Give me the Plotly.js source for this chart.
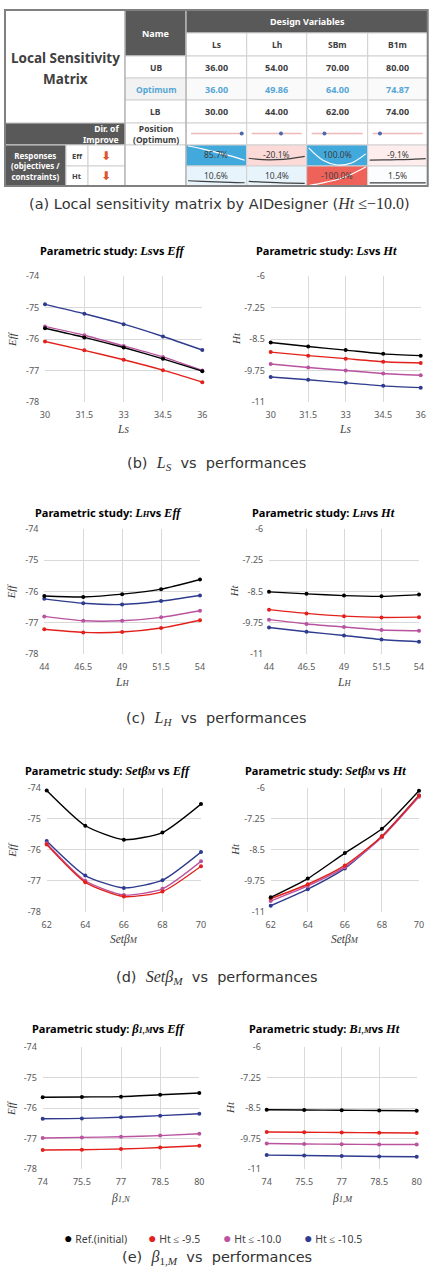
<!DOCTYPE html>
<html><head><meta charset="utf-8">
<script src="https://cdn.plot.ly/plotly-3.0.1.min.js"></script>
<style>html,body{margin:0;padding:0;background:#fff}#chart{width:436px;height:1285px}</style>
</head><body><div id="chart"></div>
<script>
// ---------- table data ----------
const varNames = ['Ls','Lh','SBm','B1m'];
const UB  = [36.00, 54.00, 70.00, 80.00];
const OPT = [36.00, 49.86, 64.00, 74.87];
const LB  = [30.00, 44.00, 62.00, 74.00];
const sensEff = [85.7, -20.1, 100.0, -9.1];
const sensHt  = [10.6, 10.4, -100.0, 1.5];

// ---------- parametric study data ----------
const xLs = [30, 31.5, 33, 34.5, 36];
const effLs_ref = [-75.66,-75.95,-76.27,-76.63,-77.02];
const effLs_95  = [-76.08,-76.36,-76.66,-76.99,-77.37];
const effLs_100 = [-75.60,-75.88,-76.22,-76.57,-77.00];
const effLs_105 = [-74.90,-75.20,-75.53,-75.92,-76.35];
const htLs_ref = [-8.64,-8.80,-8.94,-9.09,-9.16];
const htLs_95  = [-9.02,-9.16,-9.28,-9.40,-9.45];
const htLs_100 = [-9.49,-9.63,-9.75,-9.87,-9.94];
const htLs_105 = [-10.01,-10.12,-10.24,-10.36,-10.43];

const xLh = [44, 46.5, 49, 51.5, 54];
const effLh_ref = [-76.15,-76.18,-76.09,-75.93,-75.62];
const effLh_95  = [-77.21,-77.31,-77.30,-77.17,-76.92];
const effLh_100 = [-76.80,-76.94,-76.94,-76.83,-76.62];
const effLh_105 = [-76.24,-76.38,-76.42,-76.31,-76.13];
const htLh_ref = [-8.52,-8.60,-8.67,-8.70,-8.63];
const htLh_95  = [-9.23,-9.38,-9.49,-9.54,-9.53];
const htLh_100 = [-9.63,-9.80,-9.92,-10.04,-10.07];
const htLh_105 = [-9.94,-10.11,-10.26,-10.42,-10.51];

const xSB = [62, 64, 66, 68, 70];
const effSB_ref = [-74.08,-75.22,-75.67,-75.44,-74.52];
const effSB_95  = [-75.83,-77.05,-77.51,-77.35,-76.53];
const effSB_100 = [-75.79,-77.00,-77.46,-77.26,-76.37];
const effSB_105 = [-75.71,-76.83,-77.23,-76.98,-76.07];
const htSB_ref = [-10.42,-9.66,-8.63,-7.65,-6.11];
const htSB_95  = [-10.47,-9.89,-9.13,-7.95,-6.30];
const htSB_100 = [-10.57,-9.96,-9.20,-7.99,-6.35];
const htSB_105 = [-10.76,-10.09,-9.25,-7.95,-6.30];

const xB1 = [74, 75.5, 77, 78.5, 80];
const effB1_ref = [-75.65,-75.64,-75.63,-75.57,-75.51];
const effB1_95  = [-77.37,-77.36,-77.34,-77.29,-77.23];
const effB1_100 = [-76.98,-76.96,-76.94,-76.90,-76.84];
const effB1_105 = [-76.35,-76.34,-76.30,-76.25,-76.19];
const htB1_ref = [-8.57,-8.58,-8.59,-8.60,-8.61];
const htB1_95  = [-9.48,-9.49,-9.50,-9.51,-9.52];
const htB1_100 = [-9.95,-9.97,-9.98,-9.99,-9.99];
const htB1_105 = [-10.42,-10.44,-10.46,-10.48,-10.49];

const effTicks = [-78,-77,-76,-75,-74];
const htTicks  = [-11,-9.75,-8.5,-7.25,-6];
const legendNames = ['Ref.(initial)','Ht ≤ -9.5','Ht ≤ -10.0','Ht ≤ -10.5'];

// ---------- styling ----------
const W = 436, H = 1285;
const C_REF='#000000', C_95='#e3211c', C_100='#b9539f', C_105='#2e3b8e';
const DARK = '#595959';
const SERIF = 'Liberation Serif';
const SANS = 'Noto Sans';
const traces = [];
const shapes = [];
const annotations = [];
const layout = {
  width: W, height: H, margin:{l:0,r:0,t:0,b:0},
  paper_bgcolor:'#fff', plot_bgcolor:'rgba(0,0,0,0)',
  showlegend:false, hovermode:false,
  font:{family:SANS, color:'#404040'}
};
layout.xaxis9 = {domain:[0,1], range:[0,W], visible:false, fixedrange:true, anchor:'y9'};
layout.yaxis9 = {domain:[0,1], range:[H,0], visible:false, fixedrange:true, anchor:'x9'};

function ann(x,y,text,opt){
  annotations.push(Object.assign({xref:'x9',yref:'y9',x:x,y:y,text:text,showarrow:false,
    font:{family:SANS,size:9,color:'#404040'},xanchor:'center',yanchor:'middle'},opt||{}));
}
function rect(x0,y0,x1,y1,fill,lc,lw){
  shapes.push({type:'rect',xref:'x9',yref:'y9',x0:x0,y0:y0,x1:x1,y1:y1,layer:'below',
    fillcolor:fill,line:{color:lc||'#d0d0d0',width:lw===undefined?1:lw}});
}

// ---------- table ----------
const cx = [5,125,186,246.7,306.7,367.7,427.7];
rect(5,10,125,123,'#ffffff');
rect(125,10,186,56,DARK,'#d0d0d0');
rect(186,10,427.7,33,DARK,'#d0d0d0');
for(let j=0;j<4;j++){
  const a=cx[2+j], b=cx[3+j];
  rect(a,33,b,56,'#ffffff');
  rect(a,56,b,78,'#ffffff');
  rect(a,78,b,100,'#fafafa');
  rect(a,100,b,123,'#ffffff');
  rect(a,123,b,145,'#ffffff');
}
rect(125,56,186,78,'#ffffff');
rect(125,78,186,100,'#f2f2f2');
rect(125,100,186,123,'#ffffff');
rect(125,123,186,145,'#ffffff');
rect(5,123,125,145,DARK,'#d0d0d0');
rect(5,145,66,186,DARK,'#d0d0d0');
rect(66,145,88,166,'#ffffff'); rect(88,145,125,166,'#ffffff');
rect(66,166,88,186,'#ffffff'); rect(88,166,125,186,'#ffffff');
rect(125,145,186,186,'#ffffff');

function heat(p){
  const t=Math.min(1,Math.abs(p)/85);
  const c = p>=0 ? [66,169,220] : [238,98,90];
  const m = c.map(v=>Math.round(255-(255-v)*t));
  return 'rgb('+m.join(',')+')';
}
for(let j=0;j<4;j++){
  rect(cx[2+j],145,cx[3+j],166,heat(sensEff[j]));
  rect(cx[2+j],166,cx[3+j],186,heat(sensHt[j]));
}
shapes.push({type:'line',xref:'x9',yref:'y9',x0:125,x1:125,y0:10,y1:186,line:{color:'#a6a6a6',width:1}});
shapes.push({type:'line',xref:'x9',yref:'y9',x0:186,x1:186,y0:10,y1:186,line:{color:'#a6a6a6',width:1}});
shapes.push({type:'rect',xref:'x9',yref:'y9',x0:5,x1:427.7,y0:10,y1:186,line:{color:'#808080',width:2},fillcolor:'rgba(0,0,0,0)'});

ann(65,57.5,'<b>Local Sensitivity</b>',{font:{family:SANS,size:13.5,color:'#404040'}});
ann(65,78.5,'<b>Matrix</b>',{font:{family:SANS,size:13.5,color:'#404040'}});
ann(155.5,33,'<b>Name</b>',{font:{family:SANS,size:9,color:'#ffffff'}});
ann(307,21.5,'<b>Design Variables</b>',{font:{family:SANS,size:9,color:'#ffffff'}});
ann(155.5,67,'<b>UB</b>',{font:{family:SANS,size:8.5,color:'#404040'}});
ann(155.5,89,'<b>Optimum</b>',{font:{family:SANS,size:8.5,color:'#55a6d6'}});
ann(155.5,111.5,'<b>LB</b>',{font:{family:SANS,size:8.5,color:'#404040'}});
ann(121,134,'<b>Dir. of<br>Improve</b>',{xanchor:'right',align:'right',font:{family:SANS,size:8.5,color:'#ffffff'}});
ann(155.5,134,'<b>Position<br>(Optimum)</b>',{font:{family:SANS,size:8.5,color:'#404040'}});
ann(35.5,165.5,'<b>Responses<br>(objectives /<br>constraints)</b>',{font:{family:SANS,size:8,color:'#ffffff'}});
ann(77,155.5,'<b>Eff</b>',{font:{family:SANS,size:7.5,color:'#404040'}});
ann(77,176,'<b>Ht</b>',{font:{family:SANS,size:7.5,color:'#404040'}});
ann(106,155.5,'<b>⬇</b>',{font:{family:'DejaVu Sans',size:12,color:'#e0562c'}});
ann(106,176,'<b>⬇</b>',{font:{family:'DejaVu Sans',size:12,color:'#e0562c'}});

const effSeries100 = [effLs_100, effLh_100, effSB_100, effB1_100];
const htSeries100  = [htLs_100, htLh_100, htSB_100, htB1_100];
const effAll = [].concat(...effSeries100), htAll = [].concat(...htSeries100);
const eMax=Math.max(...effAll), eMin=Math.min(...effAll);
const hMax=Math.max(...htAll), hMin=Math.min(...htAll);

for(let j=0;j<4;j++){
  const a=cx[2+j], b=cx[3+j], mid=(a+b)/2;
  ann(mid,44.5,'<b>'+varNames[j]+'</b>',{font:{family:SANS,size:8.5,color:'#404040'}});
  ann(mid,67,'<b>'+UB[j].toFixed(2)+'</b>',{font:{family:SANS,size:9,color:'#404040'}});
  ann(mid,89,'<b>'+OPT[j].toFixed(2)+'</b>',{font:{family:SANS,size:9,color:'#55a6d6'}});
  ann(mid,111.5,'<b>'+LB[j].toFixed(2)+'</b>',{font:{family:SANS,size:9,color:'#404040'}});
  ann(mid,154.5,sensEff[j].toFixed(1)+'%',{font:{family:SANS,size:8.5,color:'#404040'}});
  ann(mid,175,sensHt[j].toFixed(1)+'%',{font:{family:SANS,size:8.5,color:'#404040'}});
  const la=a+5, lb=b-5;
  traces.push({x:[la,lb],y:[133.5,133.5],xaxis:'x9',yaxis:'y9',mode:'lines',line:{color:'#f0b9b9',width:1.5},cliponaxis:false});
  const f=(OPT[j]-LB[j])/(UB[j]-LB[j]);
  traces.push({x:[la+f*(lb-la)],y:[133.5],xaxis:'x9',yaxis:'y9',mode:'markers',marker:{color:'#4a6aa8',size:4},cliponaxis:false});
  const sx=[0,1,2,3,4].map(i=>a+2+i*(b-a-4)/4);
  const es=effSeries100[j].map(v=>146+(eMax-v)/(eMax-eMin)*19);
  const hs=htSeries100[j].map(v=>167+(hMax-v)/(hMax-hMin)*18.5);
  const ec=Math.abs(sensEff[j])>50?'#ffffff':'#404040';
  const hc=Math.abs(sensHt[j])>50?'#ffffff':'#404040';
  traces.push({x:sx,y:es,xaxis:'x9',yaxis:'y9',mode:'lines',line:{color:ec,width:1.2,shape:'spline'},cliponaxis:false});
  traces.push({x:sx,y:hs,xaxis:'x9',yaxis:'y9',mode:'lines',line:{color:hc,width:1.2,shape:'spline'},cliponaxis:false});
}

// ---------- charts ----------
let axn = 0;
function S(t,sz){return "<span style='font-family:"+SERIF+(sz?";font-size:"+sz+"px":"")+"'>"+t+"</span>";}
function chart(xs, series, ticks, px0, px1, py0, py1, ytitle, ytx){
  axn++;
  const n=axn;
  series.forEach(([ys,c])=>{
    traces.push({x:xs,y:ys,xaxis:'x'+n,yaxis:'y'+n,mode:'lines+markers',cliponaxis:false,
      line:{color:c,width:1.4,shape:'spline',smoothing:0.6},marker:{color:c,size:4}});
  });
  layout['xaxis'+n]={domain:[px0/W,px1/W],range:[xs[0],xs[xs.length-1]],anchor:'y'+n,
    tickvals:xs,ticktext:xs.map(String),showgrid:true,gridcolor:'#d9d9d9',gridwidth:1,
    zeroline:false,showline:false,ticks:'outside',ticklen:4,tickcolor:'rgba(0,0,0,0)',
    tickfont:{family:SANS,size:9,color:'#595959'},fixedrange:true};
  layout['yaxis'+n]={domain:[1-py1/H,1-py0/H],range:[ticks[0],ticks[ticks.length-1]],anchor:'x'+n,
    tickvals:ticks,ticktext:ticks.map(String),showgrid:true,gridcolor:'#d9d9d9',gridwidth:1,
    zeroline:false,showline:false,ticks:'outside',ticklen:3,tickcolor:'rgba(0,0,0,0)',
    tickfont:{family:SANS,size:9,color:'#595959'},fixedrange:true};
  ann(ytx,(py0+py1)/2,S('<i>'+ytitle+'</i>'),{textangle:-90,font:{family:SERIF,size:11,color:'#404040'}});
}
function eff4(r,a,b,c){return [[c,C_105],[b,C_100],[a,C_95],[r,C_REF]];}

chart(xLs, eff4(effLs_ref,effLs_95,effLs_100,effLs_105), effTicks, 45, 202.3, 276, 402, 'Eff', 12);
chart(xLs, eff4(htLs_ref,htLs_95,htLs_100,htLs_105), htTicks, 270.7, 420.7, 276, 402, 'Ht', 236);
chart(xLh, eff4(effLh_ref,effLh_95,effLh_100,effLh_105), effTicks, 44.3, 200, 528.7, 654, 'Eff', 11);
chart(xLh, eff4(htLh_ref,htLh_95,htLh_100,htLh_105), htTicks, 269, 419, 528.7, 654, 'Ht', 234);
chart(xSB, eff4(effSB_ref,effSB_95,effSB_100,effSB_105), effTicks, 46.7, 201, 788, 911.7, 'Eff', 12);
chart(xSB, eff4(htSB_ref,htSB_95,htSB_100,htSB_105), htTicks, 270.7, 419, 788, 911.7, 'Ht', 235);
chart(xB1, eff4(effB1_ref,effB1_95,effB1_100,effB1_105), effTicks, 42.7, 199.3, 1046.7, 1169.3, 'Eff', 11);
chart(xB1, eff4(htB1_ref,htB1_95,htB1_100,htB1_105), htTicks, 266.7, 416.7, 1046.7, 1169.3, 'Ht', 230);

// chart titles
const tf={family:SANS,size:11,color:'#000'};
function sm(t){return "<span style='font-size:8.5px'>"+t+"</span>";}
ann(113,250,'<b>Parametric study: '+S('<i>Ls</i>',12.5)+'vs '+S('<i>Eff</i>',12.5)+'</b>',{font:tf});
ann(326,250,'<b>Parametric study: '+S('<i>Ls</i>',12.5)+'vs '+S('<i>Ht</i>',12.5)+'</b>',{font:tf});
ann(108,512,'<b>Parametric study: '+S('<i>L'+sm('H')+'</i>',12.5)+'vs '+S('<i>Eff</i>',12.5)+'</b>',{font:tf});
ann(323,512,'<b>Parametric study: '+S('<i>L'+sm('H')+'</i>',12.5)+'vs '+S('<i>Ht</i>',12.5)+'</b>',{font:tf});
ann(108,770,'<b>Parametric study: '+S('<i>Setβ'+sm('M')+'</i>',12.5)+' vs '+S('<i>Eff</i>',12.5)+'</b>',{font:tf});
ann(325,770,'<b>Parametric study: '+S('<i>Setβ'+sm('M')+'</i>',12.5)+' vs '+S('<i>Ht</i>',12.5)+'</b>',{font:tf});
ann(108,1028,'<b>Parametric study: '+S('<i>β'+sm('1,M')+'</i>',12.5)+'vs '+S('<i>Eff</i>',12.5)+'</b>',{font:tf});
ann(324,1028,'<b>Parametric study: '+S('<i>B'+sm('1,M')+'</i>',12.5)+'vs '+S('<i>Ht</i>',12.5)+'</b>',{font:tf});

// x axis titles
const xf={family:SERIF,size:11.5,color:'#404040'};
ann(123,429,S('<i>Ls</i>'),{font:xf}); ann(345,429,S('<i>Ls</i>'),{font:xf});
ann(122,682,S('<i>L'+sm('H')+'</i>'),{font:xf}); ann(344,682,S('<i>L'+sm('H')+'</i>'),{font:xf});
ann(124,939,S('<i>Setβ'+sm('M')+'</i>'),{font:xf}); ann(345,939,S('<i>Setβ'+sm('M')+'</i>'),{font:xf});
ann(121,1198,S('<i>β'+sm('1,N')+'</i>'),{font:xf}); ann(342,1198,S('<i>β'+sm('1,M')+'</i>'),{font:xf});

// captions
const cf={family:'DejaVu Sans',size:14.5,color:'#333'};
function M(t,sz){return "<span style='font-family:"+SERIF+";font-size:"+(sz||16)+"px'>"+t+"</span>";}
ann(219,203,'(a) Local sensitivity matrix by AIDesigner ('+M('<i>Ht</i> ≤−10.0')+')',{font:cf});
ann(216,463,'(b)  '+M('<i>L<sub>S</sub></i>')+'  vs  performances',{font:cf});
ann(216,718,'(c)  '+M('<i>L<sub>H</sub></i>')+'  vs  performances',{font:cf});
ann(217,977,'(d)  '+M('<i>Setβ<sub>M</sub></i>')+'  vs  performances',{font:cf});
ann(217,1257,'(e)  '+M('<i>β</i><sub>1,<i>M</i></sub>')+'  vs  performances',{font:cf});

// legend
const legColors=[C_REF,C_95,C_100,C_105];
const legX=[62,146,221,302];
legendNames.forEach((nm,i)=>{
  ann(legX[i],1237,"<span style='color:"+legColors[i]+";font-size:14px'>●</span> "+nm,{xanchor:'left',font:{family:SANS,size:10.5,color:'#404040'}});
});

layout.shapes=shapes;
layout.annotations=annotations;
Plotly.newPlot('chart',traces,layout,{staticPlot:true,displayModeBar:false});
</script>
</body></html>
